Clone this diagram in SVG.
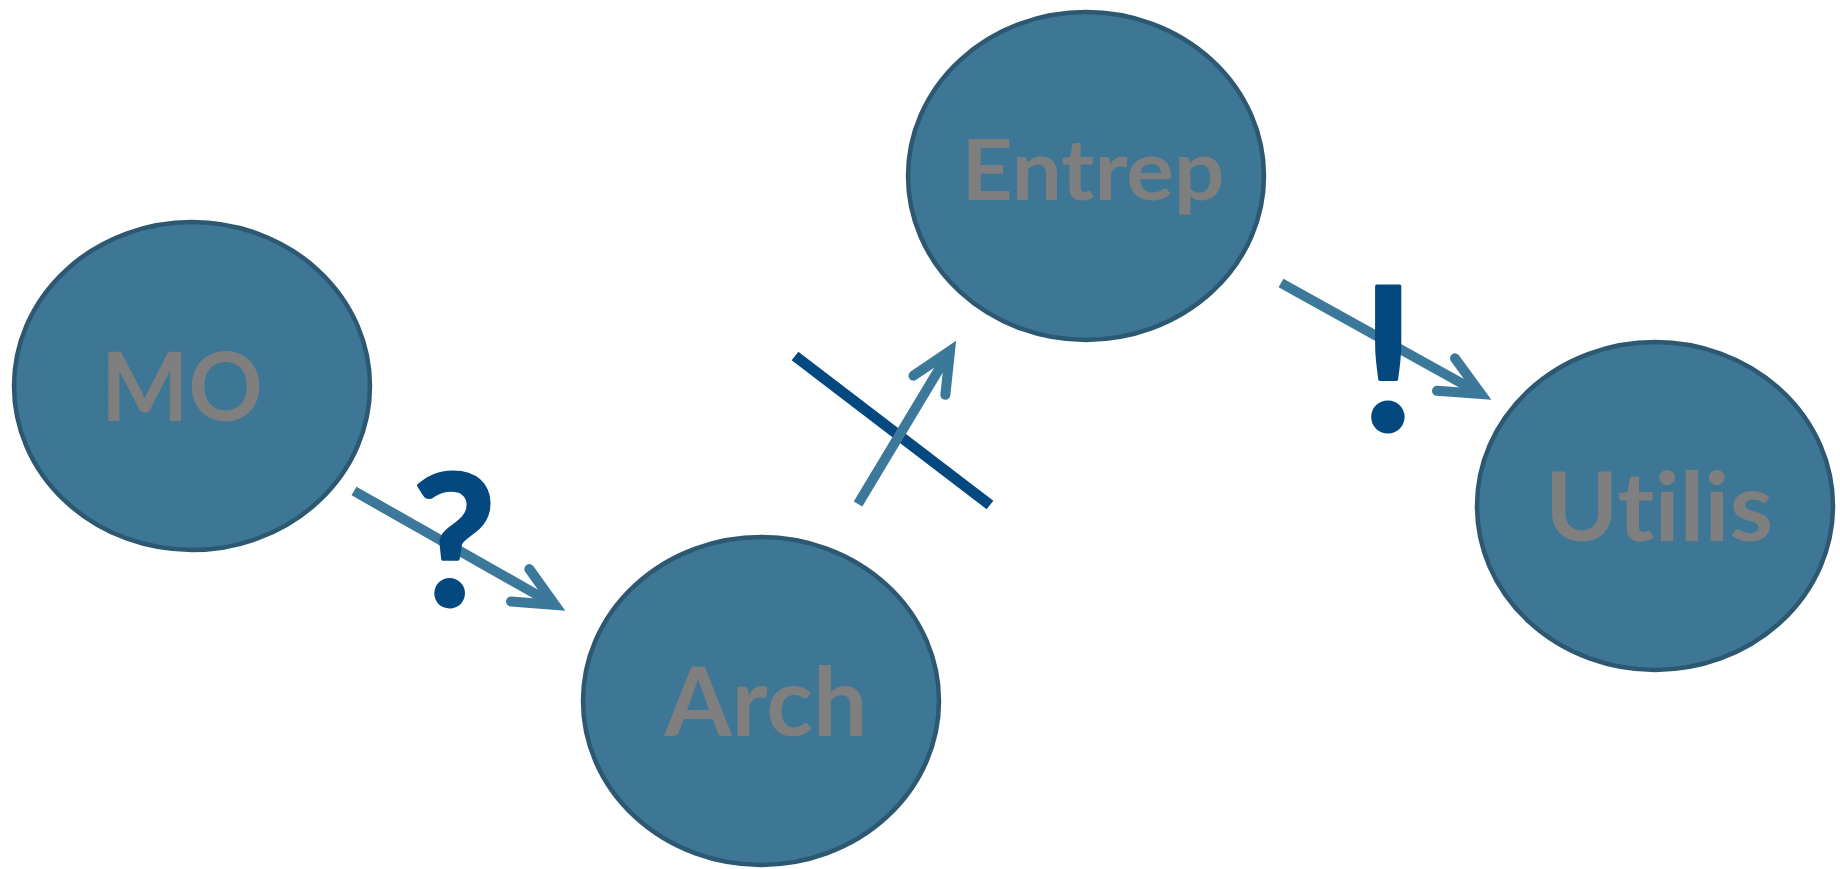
<svg xmlns="http://www.w3.org/2000/svg" width="1840" height="869" viewBox="0 0 1840 869">
  <style>
    .node { fill: #3e7696; stroke: #2c5872; stroke-width: 4.5; }
    .label { font-family: Lato, "Open Sans", "Liberation Sans", sans-serif; font-weight: 700; fill: #7f7f7f; text-anchor: middle; font-variant-ligatures: none; font-feature-settings: "liga" 0, "clig" 0; }
    .conn { fill: none; stroke: #3b7899; stroke-width: 10; stroke-linecap: butt; }
    .bar { fill: none; stroke: #03487f; stroke-width: 11; stroke-linecap: butt; }
    .sym { font-family: Lato, "Open Sans", "Liberation Sans", sans-serif; font-weight: 700; fill: #03487f; stroke: #03487f; stroke-width: 3; stroke-linejoin: round; text-anchor: middle; }
  </style>
  <defs>
    <marker id="chev" markerUnits="userSpaceOnUse" viewBox="-60 -40 80 80" markerWidth="80" markerHeight="80" refX="0" refY="0" orient="auto" overflow="visible">
      <path d="M -40 -18.6 L 0 0 L -40 18.6" fill="none" stroke="#3b7899" stroke-width="10" stroke-linecap="round" stroke-linejoin="miter" stroke-miterlimit="10"/>
    </marker>
  </defs>
  <rect width="1840" height="869" fill="#ffffff"/>

  <g id="connectors">
    <line class="conn" x1="354" y1="491" x2="555" y2="605" marker-end="url(#chev)"/>
    <line class="bar" x1="795" y1="356" x2="990" y2="505"/>
    <line class="conn" x1="858" y1="504" x2="950" y2="351" marker-end="url(#chev)"/>
    <line class="conn" x1="1281" y1="283" x2="1481" y2="394" marker-end="url(#chev)"/>
    <text class="sym" x="454" y="606" font-size="183">?</text>
    <text class="sym" x="1388" y="431" font-size="200">!</text>
  </g>

  <g id="node-mo">
    <ellipse class="node" cx="192" cy="386" rx="178" ry="164"/>
    <text class="label" x="182" y="421" font-size="95" textLength="162" lengthAdjust="spacingAndGlyphs">MO</text>
  </g>
  <g id="node-arch">
    <ellipse class="node" cx="761" cy="701" rx="178" ry="164"/>
    <text class="label" x="766" y="736" font-size="95" textLength="203" lengthAdjust="spacingAndGlyphs">Arch</text>
  </g>
  <g id="node-entrep">
    <ellipse class="node" cx="1086" cy="176" rx="178" ry="164"/>
    <text class="label" x="1093" y="200" font-size="84" textLength="263" lengthAdjust="spacingAndGlyphs">Entrep</text>
  </g>
  <g id="node-utilis">
    <ellipse class="node" cx="1655" cy="506" rx="178" ry="164"/>
    <text class="label" x="1659" y="541" font-size="95" textLength="228" lengthAdjust="spacingAndGlyphs">Utilis</text>
  </g>
</svg>
